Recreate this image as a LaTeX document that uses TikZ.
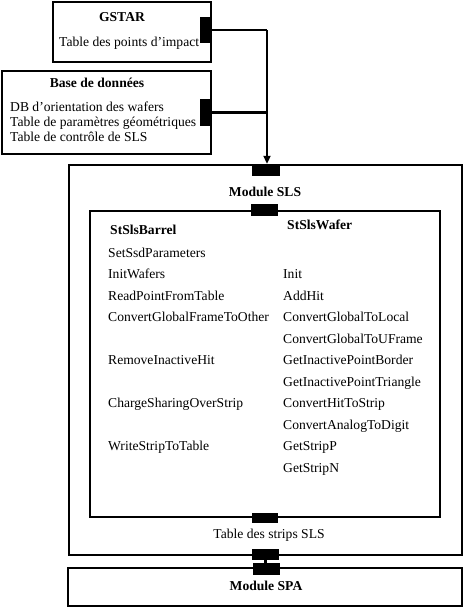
\documentclass[tikz,border=0pt]{standalone}
\usepackage{fontspec}
\setmainfont{Liberation Serif}
\usetikzlibrary{arrows.meta}
\tikzset{
  box/.style={draw=black, line width=2pt, rectangle, inner sep=0pt},
  port/.style={fill=black, draw=none, rectangle, inner sep=0pt},
  conn/.style={draw=black, line width=2.8pt},
  lbl/.style={inner sep=0pt, anchor=mid west, yshift=-2.5pt, font=\fontsize{13.6}{15}\selectfont},
  ttl/.style={inner sep=0pt, anchor=mid, yshift=-2.5pt, font=\fontsize{13.6}{15}\selectfont\bfseries},
  ttlw/.style={inner sep=0pt, anchor=mid west, yshift=-2.5pt, font=\fontsize{13.6}{15}\selectfont\bfseries},
  ctr/.style={inner sep=0pt, anchor=mid, yshift=-2.5pt, font=\fontsize{13.6}{15}\selectfont}
}
\begin{document}
\begin{tikzpicture}[x=1pt,y=-1pt]
\useasboundingbox (0,0) rectangle (464,608);
% boxes
\node[box, minimum width=158pt, minimum height=60.5pt] (gstar) at (132,31.75) {};
\node[box, minimum width=209pt, minimum height=83pt] (base) at (106.5,112.5) {};
\node[box, minimum width=393pt, minimum height=390pt] (sls) at (265.5,360) {};
\node[box, minimum width=350pt, minimum height=306pt] (inner) at (265,364) {};
\node[box, minimum width=394pt, minimum height=38pt] (spa) at (265,587) {};
% ports
\node[port, minimum width=11pt, minimum height=26pt] (pg) at (205.5,30) {};
\node[port, minimum width=12pt, minimum height=27pt] (pb) at (206,112.5) {};
\node[port, minimum width=28pt, minimum height=11pt] (pslsin) at (266,170.5) {};
\node[port, minimum width=27pt, minimum height=12pt] (pint) at (264.5,210) {};
\node[port, minimum width=26pt, minimum height=10pt] (pinb) at (265,518) {};
\node[port, minimum width=27pt, minimum height=11pt] (pslsout) at (265.5,554.5) {};
\node[port, minimum width=27pt, minimum height=12pt] (pspa) at (266.5,569) {};
% connectors
\coordinate (bend) at (267,30);
\draw[conn] (pg.east) -- (bend);
\draw[conn, -{Triangle[width=7pt,length=8pt]}, shorten >=1pt] (bend) -- (bend |- pslsin.north);
\draw[conn] (pb.east) -- (pb.east -| bend);
\draw[draw=black, line width=3pt] (pslsout.south) -- (pslsout.south |- pspa.north);
% texts GSTAR
\node[ttl] (tg) at (122,17) {GSTAR};
\node[lbl] (tg1) at (59,42) {Table des points d’impact};
% Base
\node[ttl] (tb) at (97,83) {Base de données};
\node[lbl] (tb1) at (10,107) {DB d’orientation des wafers};
\node[lbl] (tb2) at (10,122) {Table de paramètres géométriques};
\node[lbl] (tb3) at (10,137) {Table de contrôle de SLS};
% Module SLS
\node[ttl] (tsls) at (265,192) {Module SLS};
\node[ttlw] (tbar) at (110,230) {StSlsBarrel};
\node[ttlw] (twaf) at (287,225) {StSlsWafer};
% left column
\node[lbl] (l1) at (108,253) {SetSsdParameters};
\node[lbl] (l2) at (108,274) {InitWafers};
\node[lbl] (l3) at (108,296) {ReadPointFromTable};
\node[lbl] (l4) at (108,317) {ConvertGlobalFrameToOther};
\node[lbl] (l5) at (108,360) {RemoveInactiveHit};
\node[lbl] (l6) at (108,403) {ChargeSharingOverStrip};
\node[lbl] (l7) at (108,446) {WriteStripToTable};
% right column
\node[lbl] (r1) at (283,274) {Init};
\node[lbl] (r2) at (283,296) {AddHit};
\node[lbl] (r3) at (283,317) {ConvertGlobalToLocal};
\node[lbl] (r4) at (283,339) {ConvertGlobalToUFrame};
\node[lbl] (r5) at (283,360) {GetInactivePointBorder};
\node[lbl] (r6) at (283,382) {GetInactivePointTriangle};
\node[lbl] (r7) at (283,403) {ConvertHitToStrip};
\node[lbl] (r8) at (283,425) {ConvertAnalogToDigit};
\node[lbl] (r9) at (283,446) {GetStripP};
\node[lbl] (r10) at (283,468) {GetStripN};
% bottom
\node[ctr] (tstrips) at (269,534) {Table des strips SLS};
\node[ttl] (tspa) at (266,586) {Module SPA};
\end{tikzpicture}
\end{document}
